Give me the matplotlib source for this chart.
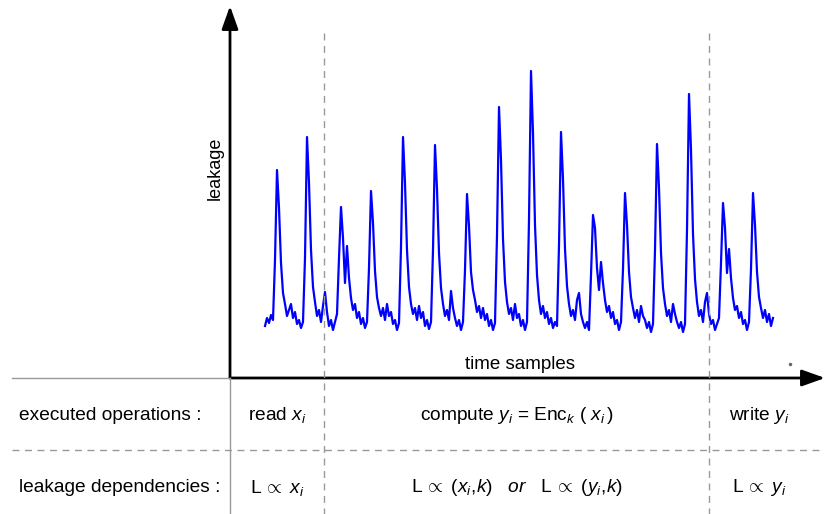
import numpy as np
import matplotlib.pyplot as plt
from matplotlib.lines import Line2D
from matplotlib.transforms import blended_transform_factory

plt.rcParams['font.family'] = ['Liberation Sans', 'DejaVu Sans']
plt.rcParams['mathtext.fontset'] = 'custom'
plt.rcParams['mathtext.rm'] = 'Liberation Sans'
plt.rcParams['mathtext.it'] = 'Liberation Sans:italic'
plt.rcParams['mathtext.sf'] = 'Liberation Sans'

# leakage trace, one value per time sample
leakage = [
    52, 60, 55, 63, 58, 118, 208, 170, 115, 85,      # 0
    74, 62, 68, 74, 60, 66, 54, 58, 50, 56,          # 10
    120, 241, 195, 128, 91, 76, 62, 68, 56, 72,      # 20
    86, 66, 52, 58, 48, 56, 64, 120, 171, 140,       # 30
    95, 132, 100, 80, 68, 74, 60, 66, 54, 60,        # 40
    50, 56, 110, 187, 155, 107, 81, 70, 62, 70,      # 50
    58, 74, 62, 66, 54, 58, 48, 55, 131, 241,        # 60
    195, 128, 91, 74, 64, 70, 58, 72, 60, 66,        # 70
    52, 58, 49, 56, 128, 233, 189, 125, 90, 74,      # 80
    62, 68, 58, 87, 70, 60, 52, 58, 48, 56,          # 90
    108, 184, 152, 106, 88, 78, 66, 72, 60, 70,      # 100
    58, 64, 52, 58, 48, 55, 143, 271, 218, 139,      # 110
    96, 76, 64, 70, 58, 74, 60, 64, 52, 58,          # 120
    48, 56, 158, 307, 245, 153, 103, 78, 64, 72,     # 130
    60, 66, 54, 60, 50, 56, 52, 133, 246, 199,       # 140
    129, 92, 74, 62, 68, 58, 78, 85, 64, 56,         # 150
    50, 56, 48, 103, 163, 150, 110, 88, 116, 95,     # 160
    78, 66, 72, 60, 66, 54, 58, 48, 56, 109,         # 170
    185, 153, 106, 81, 70, 60, 68, 56, 72, 62,       # 180
    58, 50, 56, 46, 54, 128, 234, 190, 125, 90,      # 190
    74, 62, 68, 56, 74, 64, 56, 50, 56, 46,          # 200
    54, 148, 284, 228, 144, 99, 76, 62, 68, 56,      # 210
    76, 85, 64, 54, 58, 48, 54, 60, 115, 175,        # 220
    150, 105, 129, 100, 80, 68, 72, 60, 66, 54,      # 230
    58, 48, 56, 109, 185, 153, 106, 81, 70, 60,      # 240
    68, 56, 64, 52, 60,                              # 250
]
samples = np.arange(len(leakage))

# phase boundaries (in samples) and texts of the table below the plot
phase_bounds = [29.5, 222]
row_labels = ['executed operations :', 'leakage dependencies :']
operations = [r'read $x_i$',
              r'compute $y_i$ = $\mathrm{Enc}_k\ \mathit{(}\ x_i\,\mathit{)}$',
              r'write $y_i$']
dependencies = [r'L$\,\propto\ x_i$',
                r'L$\,\propto\ \mathit{(x_i,\!k)}$   $\mathit{or}$   L$\,\propto\ \mathit{(y_i,\!k)}$',
                r'L$\,\propto\ y_i$']

W, H = 825, 514
fig = plt.figure(figsize=(W / 100, H / 100), dpi=100)


def fx(px):
    return px / W


def fy(py):
    return 1 - py / H


ax = fig.add_axes([fx(230), fy(378), fx(825) - fx(230), fy(6) - fy(378)])
ax.patch.set_alpha(0)
ax.set_xlim(-17.5, 280)
ax.set_ylim(0, 372)
for s in ax.spines.values():
    s.set_visible(False)
ax.set_xticks([])
ax.set_yticks([])

ax.plot(samples, leakage, color='#0000ff', lw=1.6)

# axes arrows
arrow = dict(arrowstyle='-|>,head_length=0.7,head_width=0.25', lw=2,
             color='black', mutation_scale=20, shrinkA=0, shrinkB=0)
ax.annotate('', xy=(0, 1), xytext=(0, 0), xycoords='axes fraction', arrowprops=arrow)
ax.annotate('', xy=(1, 0), xytext=(0, 0), xycoords='axes fraction', arrowprops=arrow)

ax.text(0.487, 0.035, 'time samples', transform=ax.transAxes, ha='center',
        va='center', fontsize=13.5)
fig.text(fx(215), fy(168), 'leakage', rotation=90, ha='center', va='center',
         fontsize=13)
fig.add_artist(Line2D([fx(790)], [fy(364)], marker='o', ms=1.5, color='#666666'))

# table lines
grey = '#999999'
fig.add_artist(Line2D([fx(12), fx(230)], [fy(378), fy(378)], color=grey, lw=1))
fig.add_artist(Line2D([fx(230), fx(230)], [fy(378), fy(514)], color=grey, lw=1))
fig.add_artist(Line2D([fx(12), fx(825)], [fy(450), fy(450)], color=grey, lw=1,
                      ls=(0, (5, 4))))
mix = blended_transform_factory(ax.transData, fig.transFigure)
for b in phase_bounds:
    fig.add_artist(Line2D([b, b], [fy(33), fy(514)], transform=mix, color=grey,
                          lw=1, ls=(0, (5, 4))))

# table texts
edges = [-17.5] + phase_bounds + [272.5]
centers = [(edges[i] + edges[i + 1]) / 2 for i in range(3)]
row_y = [fy(415), fy(488)]
for label, y in zip(row_labels, row_y):
    fig.text(fx(19), y, label, ha='left', va='center', fontsize=13.8)
for c, t in zip(centers, operations):
    fig.text(c, row_y[0], t, transform=mix, ha='center', va='center', fontsize=13.8)
for c, t in zip(centers, dependencies):
    fig.text(c, row_y[1], t, transform=mix, ha='center', va='center', fontsize=13.8)

fig.savefig('out.png', dpi=100)
